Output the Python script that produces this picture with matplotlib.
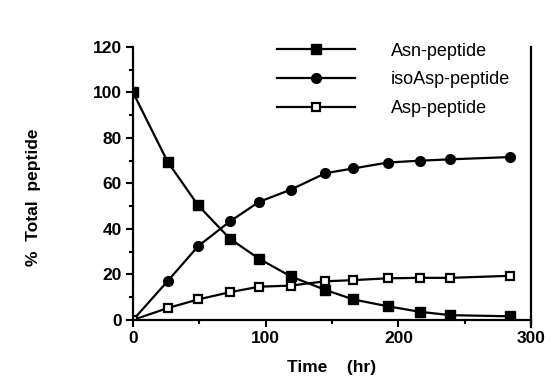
import matplotlib
matplotlib.use("Agg")
import matplotlib.pyplot as plt
from matplotlib.ticker import MultipleLocator

time_hr = [0, 26, 49, 73, 95, 119, 145, 166, 192, 216, 239, 284]
asn = [100, 69.6, 50.4, 35.7, 26.9, 19.1, 13.2, 9.0, 6.0, 3.6, 2.1, 1.6]
isoasp = [0, 17.0, 32.4, 43.3, 51.9, 57.3, 64.5, 66.6, 69.2, 70.0, 70.6, 71.6]
asp = [0, 5.2, 9.0, 12.2, 14.6, 15.1, 17.0, 17.5, 18.3, 18.5, 18.5, 19.4]
labels = ["Asn-peptide", "isoAsp-peptide", "Asp-peptide"]

plt.rcParams['font.family'] = ['Liberation Sans', 'DejaVu Sans']

fig = plt.figure(figsize=(5.59, 3.85), dpi=100)
ax = fig.add_axes([0.238, 0.169, 0.712, 0.709])

lw = 1.6
ax.plot(time_hr, asn, '-', color='black', lw=lw, marker='s', ms=6.5, mfc='black', mec='black', label=labels[0])
ax.plot(time_hr, isoasp, '-', color='black', lw=lw, marker='o', ms=7, mfc='black', mec='black', label=labels[1])
ax.plot(time_hr, asp, '-', color='black', lw=lw, marker='s', ms=5.5, mfc='white', mec='black', mew=1.6, label=labels[2])

ax.set_xlim(0, 300)
ax.set_ylim(0, 120)
ax.xaxis.set_major_locator(MultipleLocator(100))
ax.xaxis.set_minor_locator(MultipleLocator(50))
ax.yaxis.set_major_locator(MultipleLocator(20))
ax.yaxis.set_minor_locator(MultipleLocator(10))
ax.tick_params(which='major', direction='out', length=5, width=1.5, labelsize=12.5, pad=3)
ax.tick_params(which='minor', direction='out', length=3, width=1.5)
for lab in ax.get_xticklabels() + ax.get_yticklabels():
    lab.set_fontweight('bold')

ax.spines['top'].set_visible(False)
for s in ['left', 'bottom', 'right']:
    ax.spines[s].set_linewidth(1.6)
ax.spines['right'].set_bounds(-3, 120)

ax.set_xlabel("Time    (hr)", fontweight='bold', fontsize=12.5, labelpad=10)
ax.set_ylabel("%  Total  peptide", fontweight='bold', fontsize=12.5)
ax.yaxis.set_label_coords(-0.232, 0.45)

leg = ax.legend(loc='upper left', bbox_to_anchor=(0.322, 1.075), frameon=False,
                handlelength=4.3, handletextpad=2.0, labelspacing=0.65, fontsize=13)

fig.savefig("out.png", dpi=100)
